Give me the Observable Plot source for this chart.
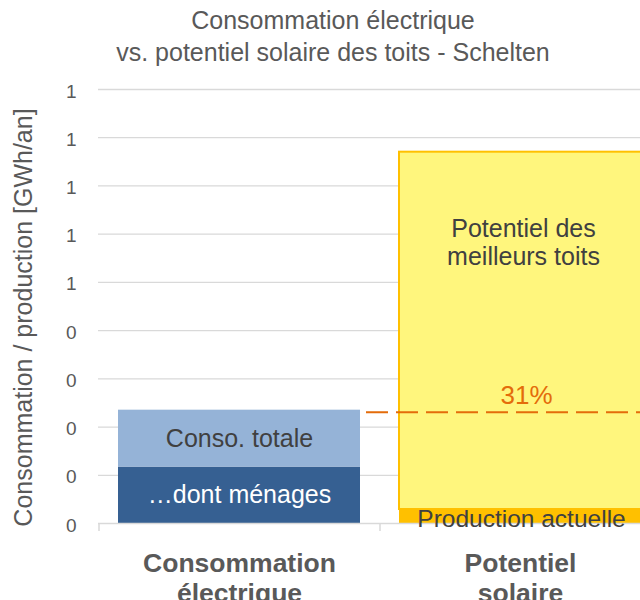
<!DOCTYPE html>
<html><head><meta charset="utf-8">
<script src="https://cdn.jsdelivr.net/npm/d3@7"></script>
<script src="https://cdn.jsdelivr.net/npm/@observablehq/plot@0.6"></script>
<style>
body{margin:0;background:#fff;overflow:hidden;width:640px;height:600px;font-family:"Liberation Sans",Arial,sans-serif}
#title{box-sizing:border-box;height:70px;padding-top:4px;padding-left:26px;text-align:center;font-size:25px;line-height:32px;color:#595959;white-space:nowrap}
</style></head><body>
<div id="title">Consommation électrique<br>vs. potentiel solaire des toits - Schelten</div>
<div id="chart"></div>
<script>
const categories = ["Consommation électrique", "Potentiel solaire"];
const categoryLabels = ["Consommation\nélectrique", "Potentiel\nsolaire"];
const consoMenages = 0.117;
const consoTotale = 0.235;
const productionActuelle = 0.029;
const potentielMeilleursToits = 0.770;
const partPotentiel = "31%";
const yTicks = [0, 0.1, 0.2, 0.3, 0.4, 0.5, 0.6, 0.7, 0.8, 0.9];
const yTickLabels = ["0","0","0","0","0","1","1","1","1","1"];
const yLabel = "Consommation / production [GWh/an]";
const labelMenages = "…dont ménages";
const labelTotale = "Conso. totale";
const labelProduction = "Production actuelle";
const labelPotentiel = "Potentiel des\nmeilleurs toits";

const seg = (c, y1, y2) => [{c, y1, y2}];

const chart = Plot.plot({
  width: 640,
  height: 530,
  marginLeft: 98,
  marginRight: 0,
  marginTop: 19,
  marginBottom: 77,
  style: {fontFamily: "'Liberation Sans', Arial, sans-serif", fontSize: "19px", color: "#595959", background: "white", overflow: "hidden"},
  x: {domain: categories, range: [98.3, 660.3], paddingInner: 0.14, paddingOuter: 0.07, axis: null},
  y: {domain: [0, 0.9], axis: null},
  marks: [
    Plot.ruleY(yTicks.slice(1), {stroke: "#d9d9d9", strokeWidth: 1.3}),
    Plot.barY(seg(categories[0], 0, consoMenages), {x: "c", y1: "y1", y2: "y2", fill: "#366092"}),
    Plot.barY(seg(categories[0], consoMenages, consoTotale), {x: "c", y1: "y1", y2: "y2", fill: "#95b3d7"}),
    Plot.barY(seg(categories[1], productionActuelle, potentielMeilleursToits), {x: "c", y1: "y1", y2: "y2", fill: "#fff67d", stroke: "#ffc000", strokeWidth: 2}),
    Plot.barY(seg(categories[1], 0, productionActuelle), {x: "c", y1: "y1", y2: "y2", fill: "#ffc000"}),
    Plot.ruleY([0], {stroke: "#d9d9d9", strokeWidth: 1.5}),
    Plot.ruleX(categories, {x: d => d, y1: 0, y2: 0, insetBottom: -8, dx: -140.5, stroke: "#d9d9d9", strokeWidth: 1.5}),
    Plot.ruleY([consoTotale], {insetLeft: 268, dy: 2, stroke: "#e46c0a", strokeWidth: 2, strokeDasharray: "22,8"}),
    Plot.text([partPotentiel], {x: () => categories[1], y: () => consoTotale, dx: 6, dy: -15, fill: "#e46c0a", fontSize: 26}),
    Plot.text([labelMenages], {x: () => categories[0], y: () => consoMenages / 2, fill: "white", fontSize: 25}),
    Plot.text([labelTotale], {x: () => categories[0], y: () => (consoMenages + consoTotale) / 2, fill: "#404040", fontSize: 25}),
    Plot.text([labelPotentiel], {x: () => categories[1], y: () => potentielMeilleursToits, dx: 3, dy: 90, lineHeight: 1.12, fill: "#404040", fontSize: 25}),
    Plot.text([labelProduction], {x: () => categories[1], y: () => 0, dx: 1, dy: -4, fill: "#404040", fontSize: 24.5}),
    Plot.text(categories, {x: d => d, y: () => 0, text: (d, i) => categoryLabels[i], lineAnchor: "top", dy: 27, fontSize: 26.5, fontWeight: "bold", lineHeight: 1.13, fill: "#595959"}),
    Plot.text(yTicks, {y: d => d, text: (d, i) => yTickLabels[i], frameAnchor: "left", textAnchor: "end", dx: -22, dy: 2, fontSize: 19, fill: "#595959"}),
    Plot.text([yLabel], {frameAnchor: "left", textAnchor: "middle", rotate: -90, dx: -75, dy: 11, fontSize: 25, fill: "#595959"})
  ]
});
document.getElementById("chart").appendChild(chart);
</script>
</body></html>
